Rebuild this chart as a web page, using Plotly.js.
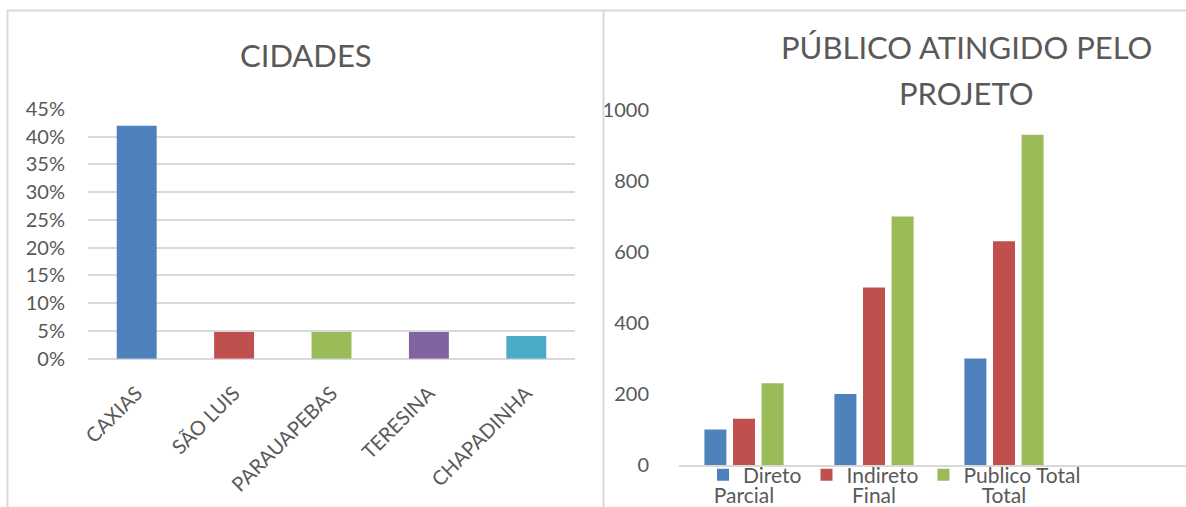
<!DOCTYPE html>
<html>
<head>
<meta charset="utf-8">
<script src="https://cdn.plot.ly/plotly-3.0.1.min.js"></script>
<style>
  html, body { margin: 0; padding: 0; background: #ffffff; }
  #chart { width: 1186px; height: 507px; }
</style>
</head>
<body>
<div id="chart"></div>
<script>
// ---- Data ----
const cidades = ['CAXIAS', 'SÃO LUIS', 'PARAUAPEBAS', 'TERESINA', 'CHAPADINHA'];
const cidadesPct = [0.42, 0.048, 0.048, 0.048, 0.041];

const etapas = ['Parcial', 'Final', 'Total'];
const direto = [100, 200, 300];
const indireto = [130, 500, 630];
const publicoTotal = [230, 700, 930];

const serieNomes = ['Direto', 'Indireto', 'Publico Total'];
const yTicksPublico = [0, 200, 400, 600, 800, 1000];

// ---- Styles ----
const W = 1186, H = 507;
const FONT = 'Lato, "Open Sans", sans-serif';
const TXT = '#595959';
const GRID = '#d9d9d9';
const cidadeCores = ['#4f81bd', '#c0504d', '#9bbb59', '#8064a2', '#4bacc6'];
const serieCores = ['#4f81bd', '#c0504d', '#9bbb59'];

const px = v => v / W;
const py = v => 1 - v / H;

const traces = [
  {
    type: 'bar', x: cidades, y: cidadesPct, xaxis: 'x', yaxis: 'y',
    marker: { color: cidadeCores }, width: 0.41, showlegend: false,
    hoverinfo: 'x+y'
  }
];
const seriesVals = [direto, indireto, publicoTotal];
seriesVals.forEach((vals, i) => {
  traces.push({
    type: 'bar', x: etapas, y: vals, name: serieNomes[i],
    xaxis: 'x2', yaxis: 'y2', marker: { color: serieCores[i] }
  });
});

const layout = {
  width: W, height: H,
  margin: { l: 0, r: 0, t: 0, b: 0 },
  paper_bgcolor: '#ffffff', plot_bgcolor: 'rgba(0,0,0,0)',
  font: { family: FONT, color: TXT, size: 20 },
  barmode: 'group', bargap: 0.34, bargroupgap: 0.23,
  showlegend: true,
  legend: {
    orientation: 'h', x: px(703), y: py(475), xanchor: 'left', yanchor: 'middle',
    bgcolor: 'rgba(0,0,0,0)', font: { size: 21, color: TXT, family: FONT },
    itemclick: false, itemdoubleclick: false
  },
  xaxis: {
    domain: [px(88), px(575)], anchor: 'y', type: 'category',
    showgrid: false, showline: false, zeroline: false,
    tickangle: -45, ticks: 'outside', ticklen: 14, tickcolor: 'rgba(0,0,0,0)',
    tickfont: { size: 20, color: TXT }
  },
  yaxis: {
    domain: [py(358.7), py(109)], anchor: 'x', range: [0, 0.45],
    tickvals: [0, 0.05, 0.10, 0.15, 0.20, 0.25, 0.30, 0.35, 0.40, 0.45],
    tickformat: '.0%', showgrid: true, gridcolor: GRID, gridwidth: 2,
    zeroline: true, zerolinecolor: GRID, zerolinewidth: 2, showline: false,
    ticks: 'outside', ticklen: 18, tickcolor: 'rgba(0,0,0,0)',
    tickfont: { size: 20, color: TXT }
  },
  xaxis2: {
    domain: [px(679), 1], anchor: 'y2', type: 'category',
    range: [-0.5, 3.40],
    showgrid: false, zeroline: false, showline: true, linecolor: GRID, linewidth: 2,
    ticks: 'outside', ticklen: 11, tickcolor: 'rgba(0,0,0,0)',
    tickfont: { size: 21, color: TXT }
  },
  yaxis2: {
    domain: [py(465), py(110)], anchor: 'x2', range: [0, 1000],
    tickvals: yTicksPublico, showgrid: false, zeroline: false, showline: false,
    ticks: 'outside', ticklen: 25, tickcolor: 'rgba(0,0,0,0)',
    tickfont: { size: 20, color: TXT }
  },
  annotations: [
    { text: 'CIDADES', xref: 'paper', yref: 'paper', x: px(306), y: py(55),
      xanchor: 'center', yanchor: 'middle', showarrow: false,
      font: { size: 31, color: TXT, family: FONT } },
    { text: 'PÚBLICO ATINGIDO PELO', xref: 'paper', yref: 'paper', x: px(966), y: py(47),
      xanchor: 'center', yanchor: 'middle', showarrow: false,
      font: { size: 31, color: TXT, family: FONT } },
    { text: 'PROJETO', xref: 'paper', yref: 'paper', x: px(966), y: py(93),
      xanchor: 'center', yanchor: 'middle', showarrow: false,
      font: { size: 31, color: TXT, family: FONT } }
  ],
  shapes: [
    { type: 'line', xref: 'paper', yref: 'paper', x0: px(7), x1: 1, y0: py(10.5), y1: py(10.5),
      line: { color: GRID, width: 2 } },
    { type: 'line', xref: 'paper', yref: 'paper', x0: px(7.5), x1: px(7.5), y0: py(10), y1: 0,
      line: { color: GRID, width: 2 } },
    { type: 'line', xref: 'paper', yref: 'paper', x0: px(603.5), x1: px(603.5), y0: py(10), y1: 0,
      line: { color: GRID, width: 2 } }
  ]
};

Plotly.newPlot('chart', traces, layout, { staticPlot: true, displayModeBar: false });
</script>
</body>
</html>
